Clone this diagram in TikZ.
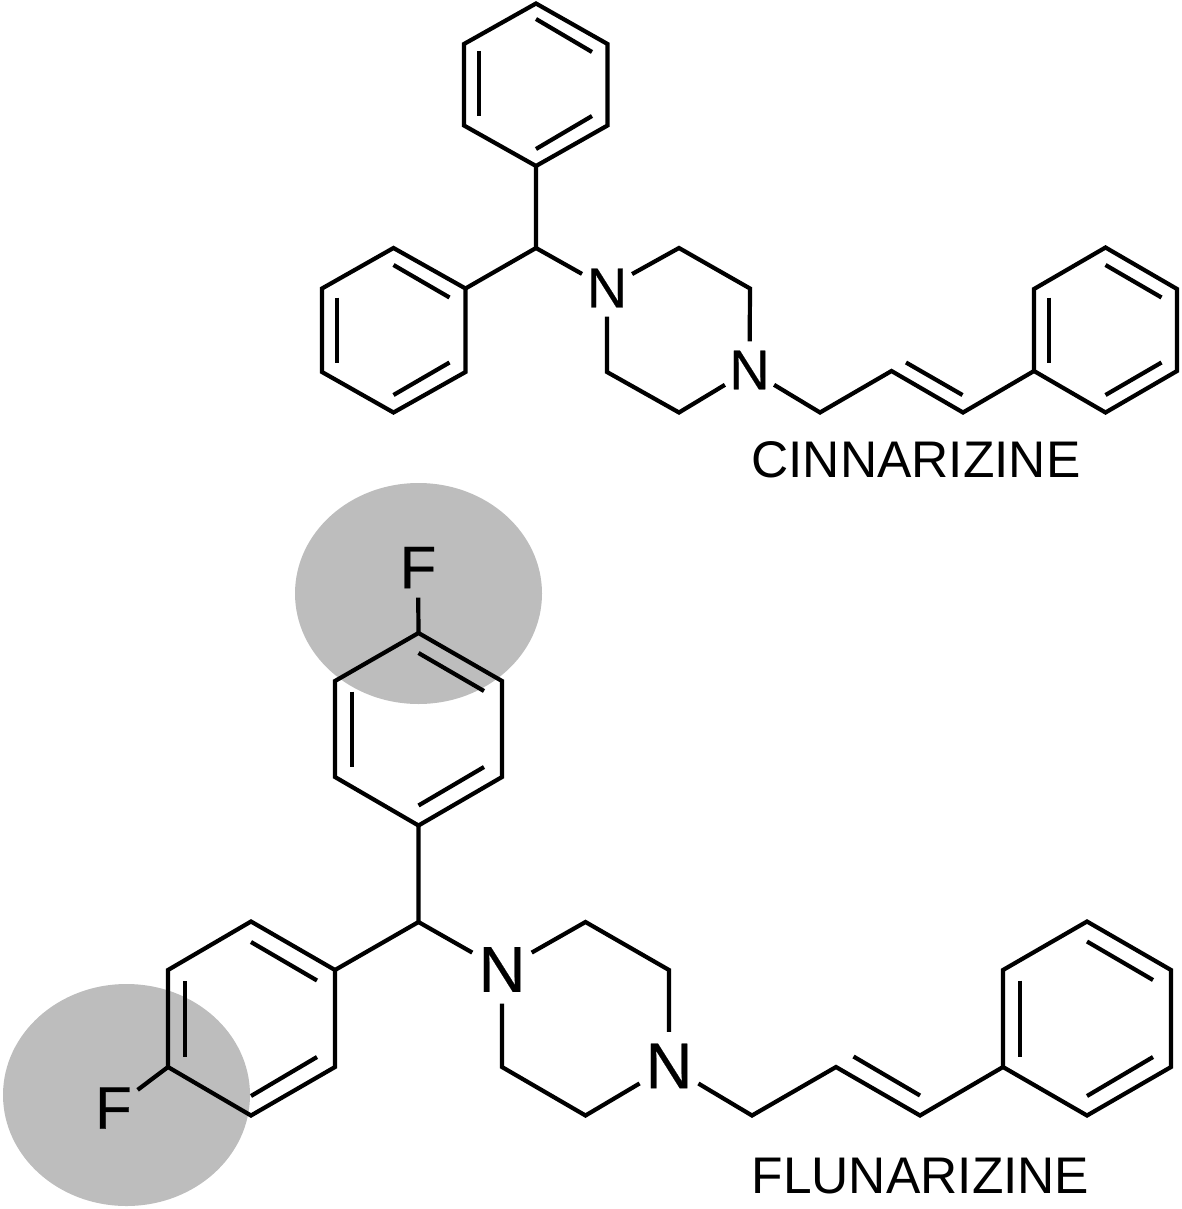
\documentclass[tikz,border=0pt]{standalone}
\usepackage{fontspec}
\setmainfont{Liberation Sans}
\newfontfamily\atomfont[FakeBold=0.35]{Liberation Sans}
\tikzset{
  bond/.style={line width=4.2pt,black,line join=miter,line cap=butt},
  inner/.style={line width=4.2pt,black,line cap=butt},
  halo/.style={fill=haloGrey,draw=none},
  atomA/.style={circle,inner sep=0pt,minimum size=57pt,font=\atomfont\fontsize{56}{60}\selectfont},
  atomB/.style={circle,inner sep=0pt,minimum size=68pt,font=\atomfont\fontsize{65}{70}\selectfont},
  atomF/.style={circle,inner sep=0pt,minimum size=60pt,font=\atomfont\fontsize{60}{66}\selectfont},
  drugname/.style={inner sep=0pt,font=\fontsize{51.5}{56}\selectfont}
}
\definecolor{haloGrey}{RGB}{189,189,189}
\begin{document}
\begin{tikzpicture}[x=1pt,y=-1pt]
\useasboundingbox (0,0) rectangle (1181,1209);
% highlight ellipses
\fill[halo] (418.5,593.5) ellipse [x radius=123.5,y radius=110.5];
\fill[halo] (126.5,1095) ellipse [x radius=123.5,y radius=111];
% ---- cinnarizine ----
\coordinate (a1) at (536,3.5);
\coordinate (a2) at (607.5,44);
\coordinate (a3) at (607.5,125.5);
\coordinate (a4) at (536,166);
\coordinate (a5) at (464,125.5);
\coordinate (a6) at (464,44);
\coordinate (ch) at (536,248);
\coordinate (b1) at (465.5,288.5);
\coordinate (b2) at (393.5,248);
\coordinate (b3) at (322,288.5);
\coordinate (b4) at (322,372);
\coordinate (b5) at (393.5,412.5);
\coordinate (b6) at (465.5,372);
\node[atomA] (n1) at (607,288) {N};
\node[atomA] (n2) at (749.5,370) {N};
\coordinate (p1) at (679,248);
\coordinate (p2) at (750,288.5);
\coordinate (p3) at (679,412.5);
\coordinate (p4) at (607,372);
\coordinate (c1) at (820,412.5);
\coordinate (c2) at (891.5,371);
\coordinate (c3) at (963,412.5);
\coordinate (d1) at (1034,371);
\coordinate (d2) at (1034,289);
\coordinate (d3) at (1105.5,247.5);
\coordinate (d4) at (1177,289);
\coordinate (d5) at (1177,371);
\coordinate (d6) at (1105.5,412.5);
\draw[bond] (a1)--(a2)--(a3)--(a4)--(a5)--(a6)--cycle;
\draw[bond] (a4)--(ch)--(b1);
\draw[bond] (b1)--(b2)--(b3)--(b4)--(b5)--(b6)--cycle;
\draw[bond] (ch)--(n1);
\draw[bond] (n1)--(p1)--(p2)--(n2);
\draw[bond] (n2)--(p3)--(p4)--(n1);
\draw[bond] (n2)--(c1)--(c2)--(c3)--(d1);
\draw[bond] (d1)--(d2)--(d3)--(d4)--(d5)--(d6)--cycle;
\coordinate (ai1) at (536,19); \coordinate (ai2) at (592,52);
\coordinate (ai3) at (479,51); \coordinate (ai4) at (479,116);
\coordinate (ai5) at (536,149); \coordinate (ai6) at (592,116);
\draw[inner] (ai1)--(ai2); \draw[inner] (ai3)--(ai4); \draw[inner] (ai5)--(ai6);
\coordinate (bi1) at (393.5,265); \coordinate (bi2) at (449.5,297.5);
\coordinate (bi3) at (337,297.5); \coordinate (bi4) at (337,362.5);
\coordinate (bi5) at (393.5,395); \coordinate (bi6) at (449.5,362.5);
\draw[inner] (bi1)--(bi2); \draw[inner] (bi3)--(bi4); \draw[inner] (bi5)--(bi6);
\coordinate (ci1) at (906,362.5); \coordinate (ci2) at (962.5,395);
\draw[inner] (ci1)--(ci2);
\coordinate (di1) at (1105.5,265); \coordinate (di2) at (1161.5,297.5);
\coordinate (di3) at (1049,297.5); \coordinate (di4) at (1049,362.5);
\coordinate (di5) at (1105.5,395); \coordinate (di6) at (1161.5,362.5);
\draw[inner] (di1)--(di2); \draw[inner] (di3)--(di4); \draw[inner] (di5)--(di6);
\node[drugname] (cname) at (916,459.5) {CINNARIZINE};
% ---- flunarizine ----
\node[atomF] (f1) at (418,567.5) {F};
\node[atomF] (f2) at (113.5,1108) {F};
\coordinate (e1) at (418.5,633);
\coordinate (e2) at (502,681);
\coordinate (e3) at (502,777);
\coordinate (e4) at (418.5,825.5);
\coordinate (e5) at (335,777);
\coordinate (e6) at (335,681);
\coordinate (fh) at (418.5,922);
\coordinate (g1) at (335,970);
\coordinate (g2) at (251,921.5);
\coordinate (g3) at (168,970);
\coordinate (g4) at (168,1067);
\coordinate (g5) at (251,1115.5);
\coordinate (g6) at (335,1067);
\node[atomB] (m1) at (502,969.5) {N};
\node[atomB] (m2) at (669,1066) {N};
\coordinate (q1) at (585.5,922);
\coordinate (q2) at (669,970);
\coordinate (q3) at (585.5,1115.5);
\coordinate (q4) at (502,1067);
\coordinate (r1) at (752,1115.5);
\coordinate (r2) at (836,1067);
\coordinate (r3) at (920,1115.5);
\coordinate (s1) at (1003,1067);
\coordinate (s2) at (1003,970);
\coordinate (s3) at (1087,921.5);
\coordinate (s4) at (1171,970);
\coordinate (s5) at (1171,1067);
\coordinate (s6) at (1087,1115.5);
\draw[bond] (f1)--(e1);
\draw[bond] (e1)--(e2)--(e3)--(e4)--(e5)--(e6)--cycle;
\draw[bond] (e4)--(fh)--(g1);
\draw[bond] (g1)--(g2)--(g3)--(g4)--(g5)--(g6)--cycle;
\draw[bond] (f2)--(g4);
\draw[bond] (fh)--(m1);
\draw[bond] (m1)--(q1)--(q2)--(m2);
\draw[bond] (m2)--(q3)--(q4)--(m1);
\draw[bond] (m2)--(r1)--(r2)--(r3)--(s1);
\draw[bond] (s1)--(s2)--(s3)--(s4)--(s5)--(s6)--cycle;
\coordinate (ei1) at (418.5,653); \coordinate (ei2) at (484,691);
\coordinate (ei3) at (352,691.5); \coordinate (ei4) at (352,767);
\coordinate (ei5) at (418.5,805.5); \coordinate (ei6) at (484,767);
\draw[inner] (ei1)--(ei2); \draw[inner] (ei3)--(ei4); \draw[inner] (ei5)--(ei6);
\coordinate (gi1) at (251,942); \coordinate (gi2) at (317,980.5);
\coordinate (gi3) at (185,981); \coordinate (gi4) at (185,1057);
\coordinate (gi5) at (251,1096); \coordinate (gi6) at (317,1057);
\draw[inner] (gi1)--(gi2); \draw[inner] (gi3)--(gi4); \draw[inner] (gi5)--(gi6);
\coordinate (ri1) at (853.5,1056.5); \coordinate (ri2) at (920,1095.5);
\draw[inner] (ri1)--(ri2);
\coordinate (si1) at (1087,941.5); \coordinate (si2) at (1153,980);
\coordinate (si3) at (1020,980.5); \coordinate (si4) at (1020,1057);
\coordinate (si5) at (1087,1096); \coordinate (si6) at (1153,1057);
\draw[inner] (si1)--(si2); \draw[inner] (si3)--(si4); \draw[inner] (si5)--(si6);
\node[drugname] (fname) at (920.5,1176) {FLUNARIZINE};
\end{tikzpicture}
\end{document}
